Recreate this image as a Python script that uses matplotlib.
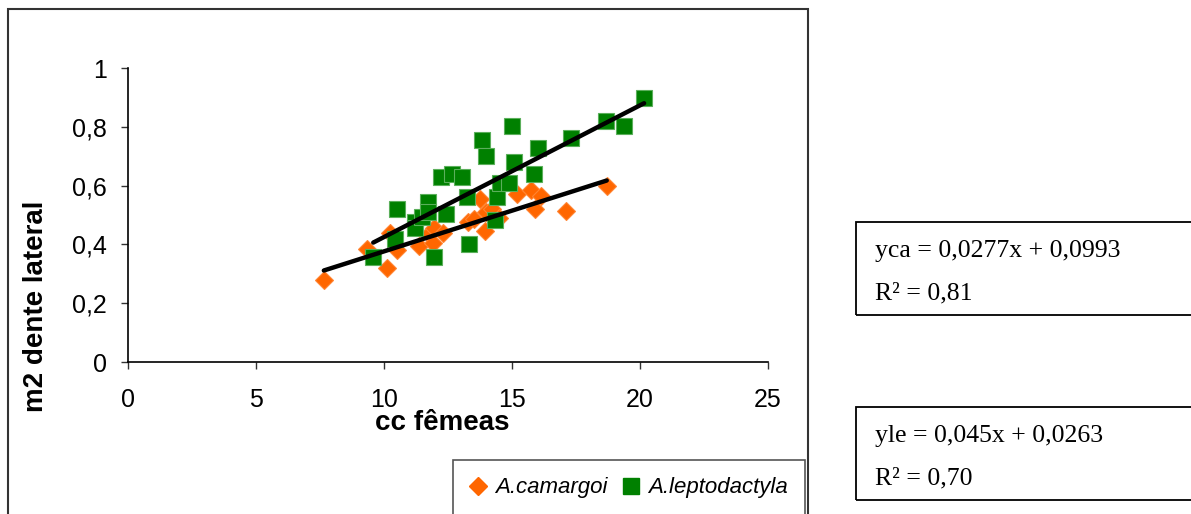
import numpy as np
import matplotlib
matplotlib.use('Agg')
import matplotlib.pyplot as plt
from matplotlib.patches import Rectangle
from matplotlib.lines import Line2D

# dados
cam_x = [7.65, 9.35, 10.1, 10.25, 10.5, 11.35, 11.75, 11.95, 11.9, 12.3, 13.3, 13.5,
         13.75, 13.95, 14.0, 14.2, 14.5, 15.2, 15.75, 15.9, 16.15, 17.1, 18.7]
cam_y = [0.28, 0.385, 0.32, 0.44, 0.38, 0.395, 0.435, 0.455, 0.405, 0.44, 0.475, 0.485,
         0.555, 0.445, 0.51, 0.52, 0.49, 0.57, 0.585, 0.52, 0.565, 0.515, 0.60]

lep_x = [9.58, 10.43, 10.52, 11.21, 11.21, 11.47, 11.73, 11.73, 11.97, 12.23, 12.42, 12.64,
         13.06, 13.23, 13.32, 13.83, 13.98, 14.34, 14.43, 14.53, 14.88, 15.01, 15.09, 15.85,
         16.0, 17.29, 18.67, 19.38, 20.16]
lep_y = [0.358, 0.42, 0.52, 0.477, 0.455, 0.494, 0.545, 0.51, 0.358, 0.63, 0.505, 0.641,
         0.63, 0.562, 0.40, 0.755, 0.70, 0.483, 0.562, 0.608, 0.608, 0.803, 0.681, 0.638,
         0.727, 0.761, 0.821, 0.803, 0.897]

# linhas de tendência (inclinação, intercepto)
cam_fit = (0.0277, 0.0993)
lep_fit = (0.0448, -0.023)

eq_text = [('yca = 0,0277x + 0,0993', 'R² = 0,81'),
           ('yle = 0,045x + 0,0263', 'R² = 0,70')]

col_cam = '#FF6600'
col_lep = '#008000'

fig = plt.figure(figsize=(11.91, 5.14), dpi=100)
ax = fig.add_axes([128 / 1191, 1 - 362 / 514, 640 / 1191, 294 / 514])

ax.plot(cam_x, cam_y, linestyle='none', marker='D', markersize=9.5, color=col_cam,
        markeredgecolor='#FF8533', markeredgewidth=0.8, zorder=3)
ax.plot(lep_x, lep_y, linestyle='none', marker='s', markersize=11, color=col_lep,
        markeredgecolor='#5BAF5B', markeredgewidth=0.8, zorder=4)

for xs, (m, b) in [(cam_x, cam_fit), (lep_x, lep_fit)]:
    xx = np.array([min(xs), max(xs)])
    ax.plot(xx, m * xx + b, color='black', linewidth=3.2, solid_capstyle='round', zorder=5)

ax.set_xlim(0, 25)
ax.set_ylim(0, 1)
ax.set_xticks([0, 5, 10, 15, 20, 25])
ax.set_yticks([0, 0.2, 0.4, 0.6, 0.8, 1])
ax.set_yticklabels(['0', '0,2', '0,4', '0,6', '0,8', '1'])
ax.tick_params(axis='both', labelsize=18, direction='out', length=5, width=1, color='#333333')
ax.tick_params(axis='x', pad=14)
ax.tick_params(axis='y', pad=10)
for lab in ax.get_xticklabels() + ax.get_yticklabels():
    lab.set_fontfamily('Liberation Sans')
ax.spines['top'].set_visible(False)
ax.spines['right'].set_visible(False)
ax.spines['left'].set_linewidth(1.2)
ax.spines['bottom'].set_linewidth(1.2)
ax.set_xlabel('cc fêmeas', fontsize=20, fontweight='bold', fontfamily='Liberation Sans')
ax.xaxis.set_label_coords((442 - 128) / 640, -(423 - 362) / 294)
ax.xaxis.label.set_va('center')
ax.set_ylabel('m2 dente lateral', fontsize=20, fontweight='bold', fontfamily='Liberation Sans')
ax.yaxis.set_label_coords((36 - 128) / 640, (362 - 306) / 294)
ax.yaxis.label.set_va('center')

# moldura externa
fig.patches.append(Rectangle((8 / 1191, -0.1), 800 / 1191, 1.1 - 9.5 / 514, transform=fig.transFigure,
                             fill=False, edgecolor='#333333', linewidth=1.5))

# legenda
handles = [Line2D([], [], linestyle='none', marker='D', markersize=9.5, color=col_cam),
           Line2D([], [], linestyle='none', marker='s', markersize=11, color=col_lep)]
leg = fig.legend(handles, ['A.camargoi', 'A.leptodactyla'], loc='center',
                 bbox_to_anchor=(629 / 1191, 1 - 488 / 514), ncol=2, fancybox=False,
                 edgecolor='#555555', framealpha=1, borderpad=0.8, handlelength=0.7,
                 handletextpad=0.4, columnspacing=0.7, borderaxespad=0,
                 prop={'family': 'Liberation Sans', 'style': 'italic', 'size': 16})
leg.get_frame().set_linewidth(1.2)

# caixas das equações
for i, (l1, l2) in enumerate(eq_text):
    top = 222 + i * 185
    fig.patches.append(Rectangle((856 / 1191, 1 - (top + 93) / 514), 0.3, 93 / 514,
                                 transform=fig.transFigure, fill=False, edgecolor='black', linewidth=1.3))
    fig.text(875 / 1191, 1 - (top + 29) / 514, l1, fontsize=18.5, fontfamily='Liberation Serif', va='center')
    fig.text(875 / 1191, 1 - (top + 71) / 514, l2, fontsize=18.5, fontfamily='Liberation Serif', va='center')

fig.savefig('out.png', dpi=100, facecolor='white')
